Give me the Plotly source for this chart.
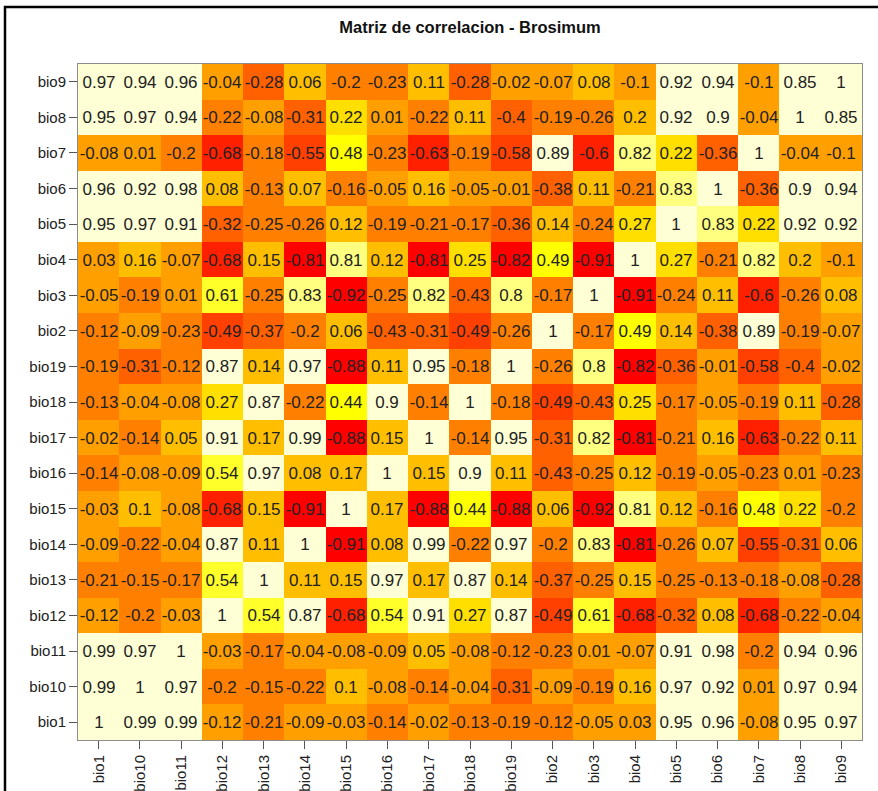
import plotly.graph_objects as go

# Variable order (columns left->right, rows bottom->top)
variables = ["bio1", "bio10", "bio11", "bio12", "bio13", "bio14", "bio15", "bio16",
             "bio17", "bio18", "bio19", "bio2", "bio3", "bio4", "bio5", "bio6",
             "bio7", "bio8", "bio9"]

# Correlation rows, each listed in the column order above
bio1  = [1, 0.99, 0.99, -0.118, -0.21, -0.09, -0.03, -0.14, -0.02, -0.13, -0.19, -0.122, -0.05, 0.03, 0.95, 0.96, -0.08, 0.95, 0.97]
bio10 = [0.99, 1, 0.97, -0.2, -0.15, -0.22, 0.1, -0.08, -0.14, -0.04, -0.31, -0.09, -0.19, 0.16, 0.97, 0.92, 0.01, 0.97, 0.94]
bio11 = [0.99, 0.97, 1, -0.03, -0.17, -0.04, -0.08, -0.09, 0.05, -0.08, -0.122, -0.23, 0.01, -0.07, 0.91, 0.98, -0.2, 0.94, 0.96]
bio12 = [-0.118, -0.2, -0.03, 1, 0.54, 0.87, -0.68, 0.54, 0.91, 0.27, 0.87, -0.49, 0.61, -0.68, -0.32, 0.08, -0.68, -0.22, -0.04]
bio13 = [-0.21, -0.15, -0.17, 0.54, 1, 0.11, 0.15, 0.97, 0.17, 0.87, 0.14, -0.37, -0.25, 0.15, -0.25, -0.13, -0.18, -0.08, -0.282]
bio14 = [-0.09, -0.22, -0.04, 0.87, 0.11, 1, -0.91, 0.08, 0.99, -0.22, 0.97, -0.2, 0.83, -0.81, -0.26, 0.07, -0.55, -0.31, 0.06]
bio15 = [-0.03, 0.1, -0.08, -0.68, 0.15, -0.91, 1, 0.17, -0.88, 0.44, -0.88, 0.06, -0.92, 0.81, 0.12, -0.16, 0.48, 0.22, -0.2]
bio16 = [-0.14, -0.08, -0.09, 0.54, 0.97, 0.08, 0.17, 1, 0.15, 0.9, 0.11, -0.43, -0.25, 0.12, -0.19, -0.05, -0.23, 0.01, -0.23]
bio17 = [-0.02, -0.14, 0.05, 0.91, 0.17, 0.99, -0.88, 0.15, 1, -0.14, 0.95, -0.31, 0.82, -0.81, -0.21, 0.16, -0.63, -0.22, 0.11]
bio18 = [-0.13, -0.04, -0.08, 0.27, 0.87, -0.22, 0.44, 0.9, -0.14, 1, -0.18, -0.49, -0.43, 0.25, -0.17, -0.05, -0.19, 0.11, -0.282]
bio19 = [-0.19, -0.31, -0.122, 0.87, 0.14, 0.97, -0.88, 0.11, 0.95, -0.18, 1, -0.26, 0.8, -0.82, -0.36, -0.01, -0.58, -0.4, -0.02]
bio2  = [-0.122, -0.09, -0.23, -0.49, -0.37, -0.2, 0.06, -0.43, -0.31, -0.49, -0.26, 1, -0.17, 0.49, 0.14, -0.38, 0.89, -0.19, -0.07]
bio3  = [-0.05, -0.19, 0.01, 0.61, -0.25, 0.83, -0.92, -0.25, 0.82, -0.43, 0.8, -0.17, 1, -0.91, -0.24, 0.11, -0.602, -0.26, 0.08]
bio4  = [0.03, 0.16, -0.07, -0.68, 0.15, -0.81, 0.81, 0.12, -0.81, 0.25, -0.82, 0.49, -0.91, 1, 0.27, -0.21, 0.82, 0.198, -0.1]
bio5  = [0.95, 0.97, 0.91, -0.32, -0.25, -0.26, 0.12, -0.19, -0.21, -0.17, -0.36, 0.14, -0.24, 0.27, 1, 0.83, 0.22, 0.92, 0.92]
bio6  = [0.96, 0.92, 0.98, 0.08, -0.13, 0.07, -0.16, -0.05, 0.16, -0.05, -0.01, -0.38, 0.11, -0.21, 0.83, 1, -0.36, 0.9, 0.94]
bio7  = [-0.08, 0.01, -0.2, -0.68, -0.18, -0.55, 0.48, -0.23, -0.63, -0.19, -0.58, 0.89, -0.602, 0.82, 0.22, -0.36, 1, -0.04, -0.1]
bio8  = [0.95, 0.97, 0.94, -0.22, -0.08, -0.31, 0.22, 0.01, -0.22, 0.11, -0.4, -0.19, -0.26, 0.198, 0.92, 0.9, -0.04, 1, 0.85]
bio9  = [0.97, 0.94, 0.96, -0.04, -0.282, 0.06, -0.2, -0.23, 0.11, -0.282, -0.02, -0.07, 0.08, -0.1, 0.92, 0.94, -0.1, 0.85, 1]

rows = [bio1, bio10, bio11, bio12, bio13, bio14, bio15, bio16, bio17, bio18,
        bio19, bio2, bio3, bio4, bio5, bio6, bio7, bio8, bio9]

# R heat.colors(12)
heat_colors = ["#FF0000", "#FF2000", "#FF4000", "#FF6000", "#FF8000", "#FF9F00",
               "#FFBF00", "#FFDF00", "#FFFF00", "#FFFF2A", "#FFFF80", "#FFFFD5"]

n = len(heat_colors)
colorscale = []
for i, c in enumerate(heat_colors):
    colorscale.append([i / n, c])
    colorscale.append([(i + 1) / n, c])

zmin = min(min(r) for r in rows)
zmax = max(max(r) for r in rows)

text = [["{:g}".format(round(v, 2)) for v in r] for r in rows]

FONT = "Liberation Sans, Arial, sans-serif"

fig = go.Figure(go.Heatmap(
    z=rows, x=variables, y=variables,
    colorscale=colorscale, zmin=zmin, zmax=zmax,
    showscale=False,
    text=text, texttemplate="%{text}",
    textfont=dict(family=FONT, size=17, color="#222222"),
    hoverinfo="x+y+z",
))

axis_common = dict(
    type="category", showgrid=False, zeroline=False, automargin=False,
    ticks="outside", ticklen=8, tickwidth=1, tickcolor="#555555",
    showline=True, mirror=True, linecolor="#8c8c8c", linewidth=1,
    tickfont=dict(family=FONT, size=15, color="#222222"),
)

W, H = 878, 791
L, R, T, B = 78, 16, 64, 51
pw, ph = W - L - R, H - T - B

fig.update_layout(
    width=W, height=H,
    margin=dict(l=L, r=R, t=T, b=B, pad=0),
    paper_bgcolor="white", plot_bgcolor="white",
    title=dict(text="<b>Matriz de correlacion - Brosimum</b>",
               font=dict(family=FONT, size=16.5, color="#111111"),
               x=0.5, xref="paper", xanchor="center",
               y=1 - 27 / H, yref="container", yanchor="middle"),
    xaxis=dict(axis_common, tickangle=-90),
    yaxis=dict(axis_common),
    shapes=[dict(type="rect", xref="paper", yref="paper",
                 x0=(5 - L) / pw, x1=(W + 20 - L) / pw,
                 y0=(H - B - (H + 20)) / ph, y1=(H - B - 7) / ph,
                 line=dict(color="black", width=2.5), fillcolor="rgba(0,0,0,0)",
                 layer="above")],
)

fig.write_html("out.html",
               config={"displayModeBar": False},
               post_script="document.body.style.margin='0px';document.body.style.overflow='hidden';")
